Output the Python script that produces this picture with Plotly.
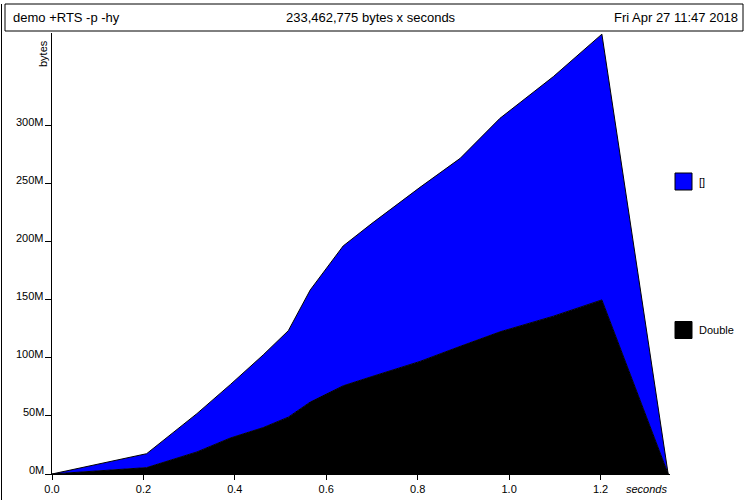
import plotly.graph_objects as go

# ---- data ----
times = [0.0, 0.1, 0.207, 0.317, 0.39, 0.462, 0.517, 0.565, 0.637, 0.70,
         0.776, 0.805, 0.893, 0.98, 1.097, 1.203, 1.348]
double_mb = [0, 2.5, 5.5, 19, 31, 40, 49, 62, 76, 84,
             93, 97, 110, 122.5, 136, 150, 0]
list_mb = [0, 6.0, 12, 33, 46, 62.6, 74.5, 96.6, 120.5, 132,
           146, 150, 162, 184, 206.5, 229, 0]
series_names = ["Double", "[]"]
series_colors = ["#000000", "#0000FF"]
x_ticks = [0.0, 0.2, 0.4, 0.6, 0.8, 1.0, 1.2]
x_tick_labels = ["0.0", "0.2", "0.4", "0.6", "0.8", "1.0", "1.2"]
y_ticks = [0, 50e6, 100e6, 150e6, 200e6, 250e6, 300e6]
y_tick_labels = ["0M", "50M", "100M", "150M", "200M", "250M", "300M"]
header_left = "demo +RTS -p -hy"
header_mid = "233,462,775 bytes x seconds"
header_right = "Fri Apr 27 11:47 2018"

W, H = 750, 500
L, R, T, B = 52, 670, 33, 474  # plot area in px
FONT = "Liberation Sans, Arial, Helvetica, sans-serif"


def px(x):
    return (x - L) / (R - L)


def py(y):
    return (B - y) / (B - T)


fig = go.Figure()
for name, vals, col in zip(series_names, [double_mb, list_mb], series_colors):
    fig.add_trace(go.Scatter(
        x=times, y=[v * 1e6 for v in vals], name=name,
        mode="lines", stackgroup="one",
        line=dict(color="black", width=1),
        fillcolor=col, showlegend=False, hoverinfo="skip"))

shapes = [
    # header box
    dict(type="rect", xref="paper", yref="paper",
         x0=px(5), x1=px(743), y0=py(31), y1=py(4),
         line=dict(color="black", width=1), fillcolor="rgba(0,0,0,0)"),
    # left page border
    dict(type="line", xref="paper", yref="paper",
         x0=px(1.5), x1=px(1.5), y0=py(4), y1=py(500),
         line=dict(color="black", width=1)),
]
annotations = [
    dict(text=header_left, xref="paper", yref="paper", x=px(11), y=py(17.5),
         xanchor="left", yanchor="middle", showarrow=False,
         font=dict(size=13, color="black", family=FONT)),
    dict(text=header_mid, xref="paper", yref="paper", x=px(371), y=py(17.5),
         xanchor="center", yanchor="middle", showarrow=False,
         font=dict(size=13, color="black", family=FONT)),
    dict(text=header_right, xref="paper", yref="paper", x=px(740), y=py(17.5),
         xanchor="right", yanchor="middle", showarrow=False,
         font=dict(size=13, color="black", family=FONT)),
    dict(text="bytes", xref="paper", yref="paper", x=px(43), y=py(54),
         xanchor="center", yanchor="middle", textangle=-90, showarrow=False,
         font=dict(size=11, color="black", family=FONT)),
    dict(text="<i>seconds</i>", xref="paper", yref="paper", x=px(669), y=py(489),
         xanchor="right", yanchor="middle", showarrow=False,
         font=dict(size=11, color="black", family=FONT)),
]
# y tick labels sit above the tick marks as in hp2ps
for v, t in zip(y_ticks, y_tick_labels):
    annotations.append(dict(text=t, xref="paper", yref="y", x=0, y=v,
                            xanchor="right", yanchor="middle", xshift=-6, yshift=4,
                            showarrow=False,
                            font=dict(size=11, color="black", family=FONT)))

# legend keys
legend_y = [330, 181.5]
for name, col, ly in zip(series_names, series_colors, legend_y):
    shapes.append(dict(type="rect", xref="paper", yref="paper",
                       x0=px(675), x1=px(692), y0=py(ly + 8.5), y1=py(ly - 8.5),
                       line=dict(color="black", width=1), fillcolor=col))
    annotations.append(dict(text=name, xref="paper", yref="paper", x=px(697), y=py(ly),
                            xanchor="left", yanchor="middle", showarrow=False,
                            font=dict(size=11, color="black", family=FONT)))

fig.update_layout(
    width=W, height=H, autosize=False,
    margin=dict(l=L, r=W - R, t=T, b=H - B, pad=0, autoexpand=False),
    paper_bgcolor="white", plot_bgcolor="white",
    font=dict(family=FONT, size=11, color="black"),
    shapes=shapes, annotations=annotations,
    xaxis=dict(range=[0, 1.352], tickvals=x_ticks, ticktext=x_tick_labels,
               automargin=False,
               showgrid=False, zeroline=False, showline=True, linecolor="black",
               linewidth=1, ticks="outside", ticklen=5, tickcolor="black",
               tickfont=dict(size=11, color="black", family=FONT)),
    yaxis=dict(range=[0, 380e6], tickvals=y_ticks, showticklabels=False,
               automargin=False,
               showgrid=False, zeroline=False, showline=True, linecolor="black",
               linewidth=1, ticks="outside", ticklen=6, tickcolor="black"),
)

fig.write_html("out.html", config={"displayModeBar": False, "staticPlot": True},
               post_script="document.body.style.margin='0';document.body.style.overflow='hidden';")
